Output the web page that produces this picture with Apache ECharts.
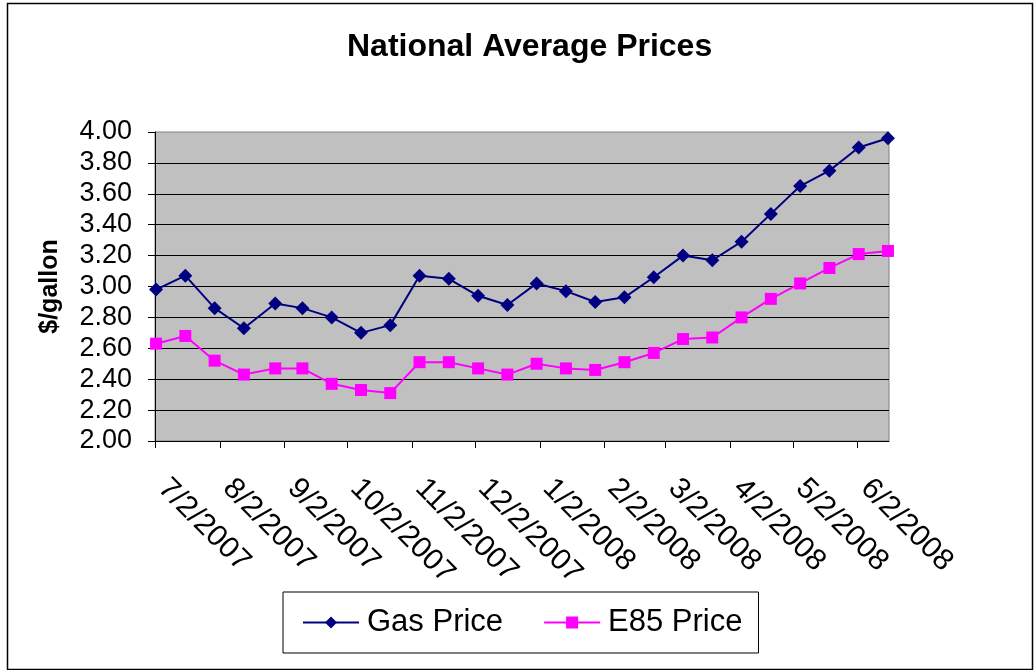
<!DOCTYPE html>
<html>
<head>
<meta charset="utf-8">
<script src="https://cdn.jsdelivr.net/npm/echarts@6/dist/echarts.min.js"></script>
<style>
html,body{margin:0;padding:0;background:#fff;}
#chart{width:1034px;height:670px;}
</style>
</head>
<body>
<div id="chart"></div>
<script>
// ---- data ----
const dates = ['2007-07-02','2007-07-16','2007-07-30','2007-08-13','2007-08-28','2007-09-10','2007-09-24',
  '2007-10-08','2007-10-22','2007-11-05','2007-11-19','2007-12-03','2007-12-17','2007-12-31',
  '2008-01-14','2008-01-28','2008-02-11','2008-02-25','2008-03-10','2008-03-24','2008-04-07',
  '2008-04-21','2008-05-05','2008-05-19','2008-06-02','2008-06-16'];
const gasPrice = [2.98,3.07,2.86,2.73,2.89,2.86,2.80,2.70,2.75,3.07,3.05,2.94,2.88,3.02,2.97,2.90,2.93,3.06,3.20,3.17,3.29,3.47,3.65,3.75,3.90,3.96];
const e85Price = [2.63,2.68,2.52,2.43,2.47,2.47,2.37,2.33,2.31,2.51,2.51,2.47,2.43,2.50,2.47,2.46,2.51,2.57,2.66,2.67,2.80,2.92,3.02,3.12,3.21,3.23];
const tickDates = ['2007-07-02','2007-08-02','2007-09-02','2007-10-02','2007-11-02','2007-12-02',
  '2008-01-02','2008-02-02','2008-03-02','2008-04-02','2008-05-02','2008-06-02'];
const axisStart = '2007-07-02';
const axisEnd = '2008-06-17';
const yMin = 2.00, yMax = 4.00, yStep = 0.20;
const seriesNames = ['Gas Price', 'E85 Price'];
const titleText = 'National Average Prices';
const yAxisTitle = '$/gallon';

// ---- helpers ----
function ts(s, midDay) {
  const p = s.split('-').map(Number);
  return new Date(p[0], p[1] - 1, p[2], midDay ? 12 : 0).getTime();
}
function fmtDate(v) {
  const d = new Date(v);
  return (d.getMonth() + 1) + '/' + d.getDate() + '/' + d.getFullYear();
}
const FONT = "'Liberation Sans', Arial, Helvetica, sans-serif";
const tickTs = tickDates.map(s => ts(s));
const gasData = dates.map((d, i) => [ts(d, true), gasPrice[i]]);
const e85Data = dates.map((d, i) => [ts(d, true), e85Price[i]]);

const chart = echarts.init(document.getElementById('chart'), null, {renderer: 'canvas'});
chart.setOption({
  animation: false,
  backgroundColor: '#ffffff',
  textStyle: {fontFamily: FONT},
  title: {
    text: titleText,
    left: 342, top: 26,
    textStyle: {fontFamily: FONT, fontSize: 32, fontWeight: 'bold', color: '#000'}
  },
  graphic: [{
    type: 'rect', left: 5, top: 1, z: 100, silent: true,
    shape: {width: 1025, height: 666},
    style: {fill: 'none', stroke: '#000', lineWidth: 1.5}
  }],
  grid: {
    left: 155, right: 145, top: 132, bottom: 229,
    show: true, backgroundColor: '#C0C0C0', borderColor: '#808080', borderWidth: 1
  },
  legend: {
    left: 283, top: 592,
    orient: 'horizontal',
    borderColor: '#000', borderWidth: 1,
    padding: [15, 16, 15, 19],
    itemGap: 40, itemWidth: 56, itemHeight: 15,
    textStyle: {fontFamily: FONT, fontSize: 31, color: '#000', padding: [0, 0, 0, 3]},
    data: seriesNames
  },
  xAxis: {
    type: 'value',
    min: ts(axisStart), max: ts(axisEnd),
    axisLine: {show: true, lineStyle: {color: '#000', width: 1}},
    axisTick: {show: true, length: 7, lineStyle: {color: '#000'}, customValues: tickTs},
    axisLabel: {
      customValues: tickTs,
      rotate: -45, margin: 35,
      fontFamily: FONT, fontSize: 30, color: '#000',
      padding: [0, 0, 0, 11],
      formatter: v => fmtDate(v)
    },
    splitLine: {show: false}
  },
  yAxis: {
    type: 'value',
    min: yMin, max: yMax, interval: yStep,
    name: yAxisTitle,
    nameLocation: 'middle', nameGap: 92,
    nameTextStyle: {fontFamily: FONT, fontSize: 25, fontWeight: 'bold', color: '#000'},
    axisLine: {show: true, lineStyle: {color: '#000', width: 1}},
    axisTick: {show: true, length: 7, lineStyle: {color: '#000'}},
    axisLabel: {margin: 23, fontFamily: FONT, fontSize: 27, color: '#000', formatter: v => v.toFixed(2)},
    splitLine: {show: true, showMaxLine: false, lineStyle: {color: '#000', width: 1}}
  },
  series: [{
    name: seriesNames[0], type: 'line', data: gasData,
    symbol: 'diamond', symbolSize: 14,
    itemStyle: {color: '#000080'},
    lineStyle: {color: '#000080', width: 2}
  }, {
    name: seriesNames[1], type: 'line', data: e85Data,
    symbol: 'rect', symbolSize: 12,
    itemStyle: {color: '#FF00FF'},
    lineStyle: {color: '#FF00FF', width: 2}
  }]
});
</script>
</body>
</html>
